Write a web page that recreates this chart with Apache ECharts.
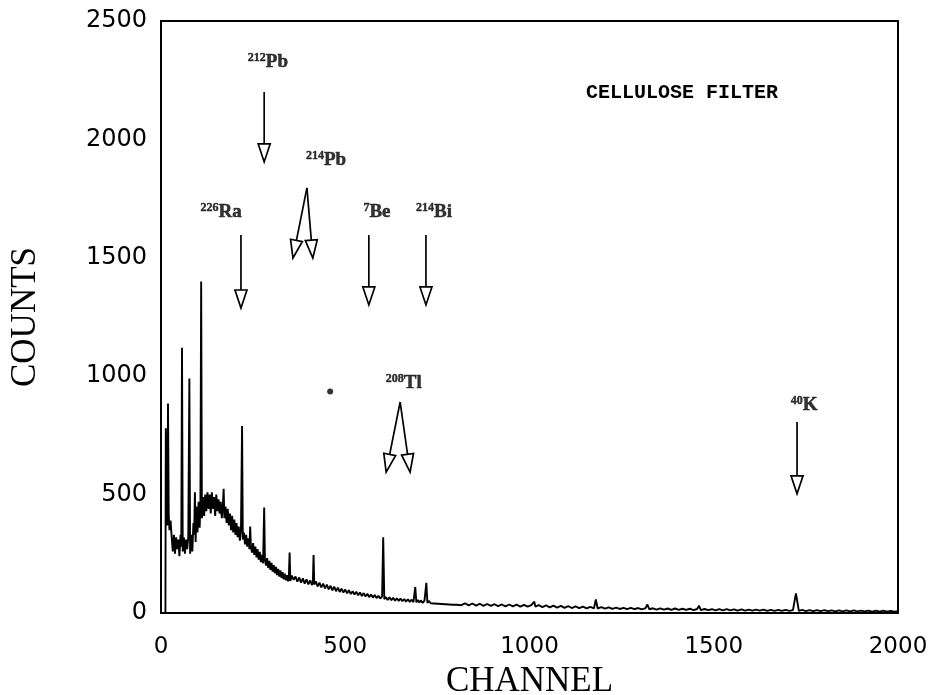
<!DOCTYPE html>
<html>
<head>
<meta charset="utf-8">
<script src="https://cdn.jsdelivr.net/npm/echarts@6/dist/echarts.min.js"></script>
<style>
  html,body{margin:0;padding:0;background:#fff;}
  #main{width:928px;height:695px;}
</style>
</head>
<body>
<div id="main"></div>
<script>
// spectrum, 20 values per row (channel / counts)
const channels = [
  0, 12, 13, 15, 17, 19, 21, 23, 26, 29, 32, 35, 38, 41, 44, 47, 50, 53, 55, 57,
  59, 62, 65, 68, 71, 74, 77, 79, 82, 85, 88, 90, 92, 94, 96, 99, 102, 105, 107, 109,
  111, 114, 117, 120, 123, 126, 129, 132, 135, 138, 141, 144, 147, 150, 153, 156, 159, 162, 165, 168,
  170, 172, 175, 178, 181, 184, 187, 190, 193, 196, 199, 202, 205, 208, 211, 214, 217, 220, 222, 225,
  228, 231, 234, 237, 240, 242, 244, 247, 250, 253, 256, 259, 262, 265, 268, 271, 274, 277, 280, 282,
  285, 288, 291, 294, 297, 300, 303, 306, 309, 312, 315, 318, 321, 324, 327, 330, 333, 336, 339, 342,
  345, 347, 349, 351, 355, 360, 365, 370, 375, 380, 385, 390, 395, 400, 405, 410, 412, 414, 416, 420,
  425, 430, 435, 440, 445, 450, 455, 460, 465, 470, 475, 480, 485, 490, 495, 500, 505, 510, 515, 520,
  525, 530, 535, 540, 545, 550, 555, 560, 565, 570, 575, 580, 585, 590, 595, 600, 603, 606, 610, 615,
  620, 625, 630, 635, 640, 645, 650, 655, 660, 665, 670, 675, 680, 685, 690, 693, 697, 701, 705, 710,
  715, 720, 723, 727, 732, 737, 742, 747, 752, 757, 762, 767, 772, 777, 782, 787, 792, 797, 802, 807,
  815, 825, 835, 845, 855, 865, 875, 885, 895, 905, 915, 925, 935, 945, 955, 965, 975, 985, 995, 1005,
  1010, 1013, 1016, 1025, 1035, 1045, 1055, 1065, 1075, 1085, 1095, 1105, 1115, 1125, 1135, 1145, 1155, 1165, 1175, 1180,
  1185, 1195, 1205, 1215, 1225, 1235, 1245, 1255, 1265, 1275, 1285, 1295, 1305, 1315, 1320, 1325, 1335, 1345, 1355, 1365,
  1375, 1385, 1395, 1405, 1415, 1425, 1435, 1445, 1455, 1460, 1465, 1475, 1485, 1495, 1505, 1515, 1525, 1535, 1545, 1555,
  1565, 1575, 1585, 1595, 1605, 1615, 1625, 1635, 1645, 1655, 1665, 1675, 1685, 1695, 1705, 1715, 1723, 1731, 1740, 1750,
  1760, 1770, 1780, 1790, 1800, 1810, 1820, 1830, 1840, 1850, 1860, 1870, 1880, 1890, 1900, 1910, 1920, 1930, 1940, 1950,
  1960, 1970, 1980, 1990, 2000
];
const counts = [
  0, 0, 780, 430, 370, 885, 410, 350, 390, 320, 260, 330, 250, 320, 270, 310, 240, 330, 280, 1120,
  260, 320, 250, 310, 270, 320, 990, 250, 330, 260, 380, 330, 510, 300, 450, 340, 470, 360, 480, 1400,
  400, 490, 410, 500, 430, 510, 440, 500, 420, 510, 440, 490, 410, 500, 430, 480, 420, 470, 400, 460,
  525, 400, 450, 380, 440, 370, 420, 350, 410, 340, 395, 330, 380, 320, 365, 305, 350, 790, 310, 340,
  290, 330, 280, 315, 270, 365, 280, 255, 295, 245, 280, 235, 270, 225, 258, 215, 245, 210, 445, 225,
  200, 232, 190, 220, 182, 212, 175, 202, 168, 195, 160, 186, 154, 180, 148, 172, 142, 166, 138, 160,
  134, 155, 255, 135, 158, 140, 154, 132, 150, 128, 146, 124, 142, 121, 138, 118, 130, 245, 120, 134,
  112, 128, 108, 124, 104, 120, 100, 115, 96, 111, 92, 107, 89, 103, 86, 99, 83, 96, 80, 92,
  78, 90, 75, 87, 72, 84, 70, 81, 67, 78, 65, 76, 63, 73, 61, 70, 320, 58, 68, 55,
  66, 54, 64, 52, 62, 51, 61, 50, 59, 48, 58, 47, 56, 46, 110, 45, 55, 44, 53, 43,
  52, 127, 42, 51, 41, 49, 40, 48, 39, 47, 38, 46, 37, 45, 36, 44, 35, 43, 35, 42,
  33, 41, 32, 40, 31, 39, 30, 38, 30, 37, 29, 36, 28, 36, 28, 35, 27, 34, 27, 33,
  26, 48, 27, 33, 25, 32, 24, 31, 23, 30, 22, 29, 21, 28, 21, 27, 20, 26, 20, 57,
  19, 25, 18, 24, 17, 23, 17, 22, 16, 22, 16, 21, 15, 21, 36, 16, 20, 14, 20, 14,
  19, 13, 19, 13, 18, 13, 18, 12, 17, 31, 12, 17, 12, 16, 11, 16, 11, 16, 11, 15,
  10, 15, 10, 14, 10, 14, 10, 14, 9, 13, 9, 13, 9, 13, 9, 12, 83, 9, 13, 8,
  12, 8, 12, 8, 12, 8, 11, 7, 11, 7, 11, 7, 11, 7, 10, 7, 10, 6, 10, 6,
  10, 6, 9, 6, 8
];

// annotation arrows: start -> tip (channel, counts)
const arrowStartX = [280, 217, 396, 396, 564, 719, 649, 649, 1726];
const arrowStartY = [2200, 1596, 1795, 1795, 1596, 1596, 891, 891, 807];
const arrowEndX   = [280, 217, 358, 412, 564, 719, 611, 676, 1726];
const arrowEndY   = [1905, 1288, 1499, 1499, 1301, 1301, 595, 595, 503];

// isotope labels
const labelMass = ['212', '214', '226', '7', '214', '208', '40'];
const labelElem = ['Pb', 'Pb', 'Ra', 'Be', 'Bi', 'Tl', 'K'];
const labelX = [290, 448, 163, 586, 741, 659, 1745];
const labelY = [2327, 1913, 1693, 1693, 1693, 971, 878];

// stray blot in the original scan
const blotX = [459];
const blotY = [935];

const xTicks = [0, 500, 1000, 1500, 2000];
const yTicks = [0, 500, 1000, 1500, 2000, 2500];

const chart = echarts.init(document.getElementById('main'), null, {renderer: 'canvas'});

const spectrum = channels.map((c, i) => [c, counts[i]]);
const arrows = arrowStartX.map((x, i) => [x, arrowStartY[i], arrowEndX[i], arrowEndY[i]]);
const labels = labelX.map((x, i) => [x, labelY[i], labelMass[i], labelElem[i]]);

function renderArrow(params, api) {
  const p0 = api.coord([api.value(0), api.value(1)]);
  const p1 = api.coord([api.value(2), api.value(3)]);
  const dx = p1[0] - p0[0], dy = p1[1] - p0[1];
  const len = Math.sqrt(dx * dx + dy * dy);
  const ux = dx / len, uy = dy / len;
  const h = 18, w = 6;
  const bx = p1[0] - ux * h, by = p1[1] - uy * h;
  const nx = -uy, ny = ux;
  return {
    type: 'group',
    children: [
      {type: 'line', shape: {x1: p0[0], y1: p0[1], x2: bx, y2: by},
        style: {stroke: '#000', lineWidth: 1.7}},
      {type: 'polygon', shape: {points: [[bx + nx * w, by + ny * w], [bx - nx * w, by - ny * w], p1]},
        style: {fill: '#fff', stroke: '#000', lineWidth: 1.7}}
    ]
  };
}

const option = {
  backgroundColor: '#fff',
  animation: false,
  grid: {
    left: 161, right: 30, top: 21, bottom: 82,
    outerBoundsMode: 'none', containLabel: false,
    show: true, borderColor: '#000', borderWidth: 2, backgroundColor: 'transparent'
  },
  xAxis: {
    type: 'value', min: 0, max: 2000, interval: 500,
    name: 'CHANNEL', nameLocation: 'middle', nameGap: 50,
    nameTextStyle: {fontFamily: 'Liberation Serif', fontSize: 35, color: '#000'},
    axisLine: {show: true, lineStyle: {color: '#000', width: 2}},
    axisTick: {show: false},
    splitLine: {show: false},
    axisLabel: {
      margin: 23, color: '#000', fontFamily: 'DejaVu Sans', fontSize: 23,
      formatter: v => xTicks.indexOf(v) >= 0 ? String(v) : ''
    }
  },
  yAxis: {
    type: 'value', min: 0, max: 2500, interval: 500,
    name: 'COUNTS', nameLocation: 'middle', nameGap: 118, nameRotate: 90,
    nameTextStyle: {fontFamily: 'Liberation Serif', fontSize: 35, color: '#000'},
    axisLine: {show: true, lineStyle: {color: '#000', width: 2}},
    axisTick: {show: false},
    splitLine: {show: false},
    axisLabel: {
      margin: 14, color: '#000', fontFamily: 'DejaVu Sans', fontSize: 24,
      formatter: v => yTicks.indexOf(v) >= 0 ? String(v) : ''
    }
  },
  graphic: [{
    type: 'text', left: 586, top: 83,
    style: {text: 'CELLULOSE FILTER', font: 'bold 20px "Liberation Mono"', fill: '#000'}
  }],
  series: [
    {
      type: 'line', data: spectrum, symbol: 'none', silent: true, sampling: null,
      lineStyle: {color: '#000', width: 1.9}
    },
    {
      type: 'custom', data: arrows, renderItem: renderArrow, silent: true,
      encode: {x: [0, 2], y: [1, 3]}
    },
    {
      type: 'scatter', data: labels, symbolSize: 0, silent: true,
      label: {
        show: true, position: 'inside',
        formatter: p => '{s|' + p.data[2] + '}{e|' + p.data[3] + '}',
        rich: {
          s: {fontFamily: 'Liberation Serif', fontWeight: 'bold', fontSize: 12, color: '#000',
            textBorderColor: '#000', textBorderWidth: 0.4, verticalAlign: 'top', lineHeight: 20},
          e: {fontFamily: 'Liberation Serif', fontWeight: 'bold', fontSize: 19, color: '#000',
            textBorderColor: '#000', textBorderWidth: 0.5, lineHeight: 20}
        }
      }
    },
    {
      type: 'scatter', data: blotX.map((x, i) => [x, blotY[i]]), symbolSize: 6, silent: true,
      itemStyle: {color: '#000'}
    }
  ]
};
chart.setOption(option);
</script>
</body>
</html>
